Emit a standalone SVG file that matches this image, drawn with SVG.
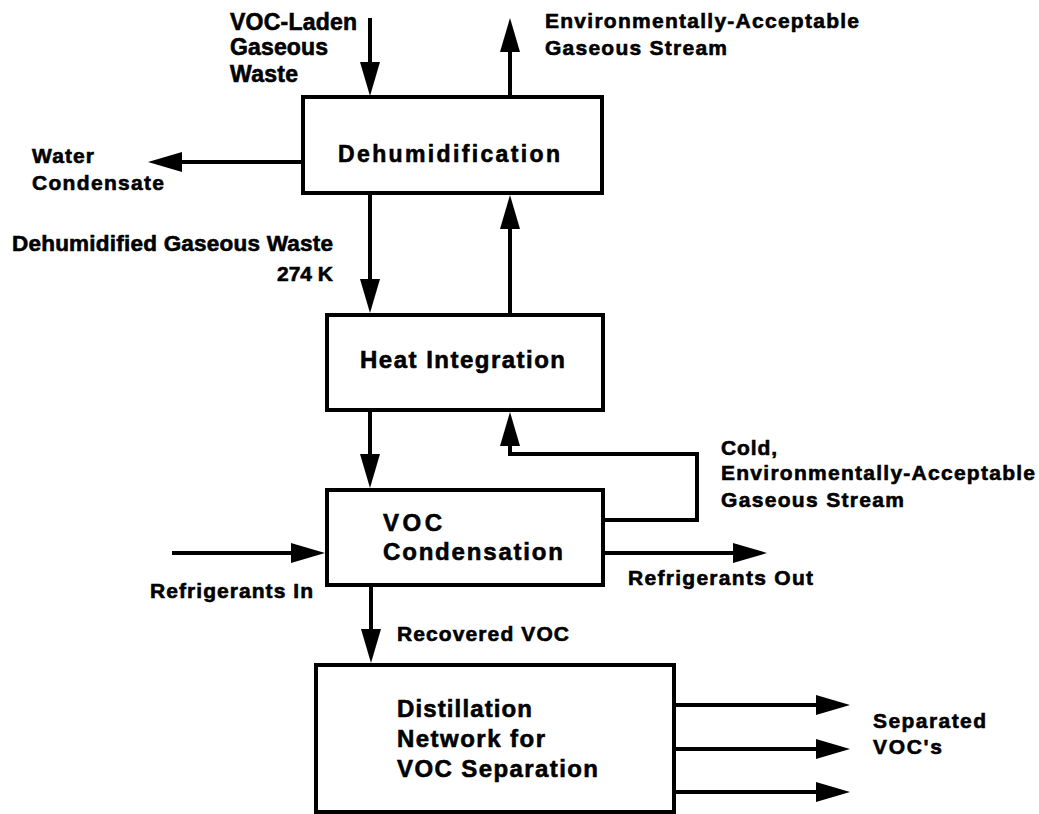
<svg xmlns="http://www.w3.org/2000/svg" width="1039" height="814" viewBox="0 0 1039 814">
<style>
.box{fill:#fff;stroke:#000;stroke-width:4}
.ln{fill:none;stroke:#000;stroke-width:4;marker-end:url(#ah)}
text{font-family:"Liberation Sans",Arial,sans-serif;font-weight:bold;fill:#000;stroke:#000;stroke-width:0.6}
</style>
<defs>
<marker id="ah" markerUnits="userSpaceOnUse" markerWidth="36" markerHeight="22" refX="24" refY="10" orient="auto" viewBox="0 0 36 22">
<path d="M0,0 L34,10 L0,20 z" fill="#000"/>
</marker>
</defs>
<rect width="1039" height="814" fill="#fff"/>
<g id="connectors">
<path class="ln" d="M370,18 V86"/>
<path class="ln" d="M510,97 V28"/>
<path class="ln" d="M303,162 H158"/>
<path class="ln" d="M370,194 V303"/>
<path class="ln" d="M510,315 V205"/>
<path class="ln" d="M370,410 V478"/>
<path class="ln" d="M603,520 H697 V454 H510 V422"/>
<path class="ln" d="M172,553 H315"/>
<path class="ln" d="M603,553 H757"/>
<path class="ln" d="M371,586 V653"/>
<path class="ln" d="M674,705 H840"/>
<path class="ln" d="M674,749 H840"/>
<path class="ln" d="M674,792 H840"/>
</g>
<g id="dehumidification">
<rect class="box" x="303" y="97" width="299" height="96"/>
<text x="338" y="162" font-size="23" textLength="222" lengthAdjust="spacing">Dehumidification</text>
</g>
<g id="heat-integration">
<rect class="box" x="327" y="315" width="276" height="95"/>
<text x="360" y="368" font-size="24" textLength="205" lengthAdjust="spacing">Heat Integration</text>
</g>
<g id="voc-condensation">
<rect class="box" x="327" y="490" width="276" height="95"/>
<text x="383" y="531" font-size="24" textLength="59" lengthAdjust="spacing">VOC</text>
<text x="383" y="560" font-size="24" textLength="180" lengthAdjust="spacing">Condensation</text>
</g>
<g id="distillation">
<rect class="box" x="316" y="665" width="358" height="147"/>
<text x="397" y="717" font-size="24" textLength="135" lengthAdjust="spacing">Distillation</text>
<text x="397" y="747" font-size="24" textLength="148" lengthAdjust="spacing">Network for</text>
<text x="397" y="777" font-size="24" textLength="201" lengthAdjust="spacing">VOC Separation</text>
</g>
<g id="labels">
<text x="230" y="30" font-size="23" textLength="127" lengthAdjust="spacing">VOC-Laden</text>
<text x="230" y="55" font-size="23" textLength="98" lengthAdjust="spacing">Gaseous</text>
<text x="230" y="82" font-size="23" textLength="68" lengthAdjust="spacing">Waste</text>
<text x="545" y="28" font-size="21" textLength="314" lengthAdjust="spacing">Environmentally-Acceptable</text>
<text x="545" y="55" font-size="21" textLength="182" lengthAdjust="spacing">Gaseous Stream</text>
<text x="32" y="163" font-size="21" textLength="62" lengthAdjust="spacing">Water</text>
<text x="32" y="190" font-size="21" textLength="132" lengthAdjust="spacing">Condensate</text>
<text x="12" y="251" font-size="22.5" textLength="321" lengthAdjust="spacing">Dehumidified Gaseous Waste</text>
<text x="277" y="281" font-size="21" textLength="56" lengthAdjust="spacing">274 K</text>
<text x="721" y="455" font-size="21" textLength="56" lengthAdjust="spacing">Cold,</text>
<text x="721" y="480" font-size="21" textLength="314" lengthAdjust="spacing">Environmentally-Acceptable</text>
<text x="721" y="507" font-size="21" textLength="183" lengthAdjust="spacing">Gaseous Stream</text>
<text x="628" y="585" font-size="21" textLength="185" lengthAdjust="spacing">Refrigerants Out</text>
<text x="150" y="598" font-size="21" textLength="163" lengthAdjust="spacing">Refrigerants In</text>
<text x="397" y="641" font-size="21" textLength="172" lengthAdjust="spacing">Recovered VOC</text>
<text x="873" y="728" font-size="21" textLength="113" lengthAdjust="spacing">Separated</text>
<text x="873" y="754" font-size="21" textLength="69" lengthAdjust="spacing">VOC's</text>
</g>
</svg>
